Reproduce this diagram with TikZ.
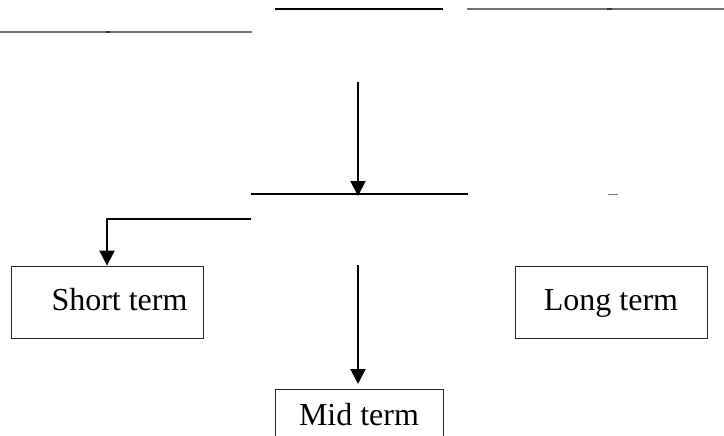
\documentclass[tikz,border=0pt]{standalone}
\usepackage{fontspec}
\setmainfont{Liberation Serif}
\usetikzlibrary{arrows.meta}
\begin{document}
\begin{tikzpicture}[x=1pt,y=-1pt,
  termbox/.style={draw=black!85, line width=0.8pt, minimum width=192pt,
    minimum height=72pt, inner sep=0pt, text height=22pt, text depth=5pt,
    font=\fontsize{32}{36}\selectfont},
  flow/.style={line width=2pt, -{Triangle[length=15pt,width=15pt]}},
  rule/.style={line width=1.5pt},
  faint/.style={line width=1.3pt, draw=black!55},
  nick/.style={line width=1.3pt, draw=black!80}]
  \useasboundingbox (0,0) rectangle (724,436);
  \clip (0,0) rectangle (724,436);

  % upper guide rules
  \coordinate (ta) at (275,9);   \coordinate (tb) at (443,9);
  \coordinate (tc) at (467,9);   \coordinate (td) at (724,9);
  \coordinate (la) at (0,32);    \coordinate (lb) at (252,32);
  \draw[rule] (ta) -- (tb);
  \draw[faint] (tc) -- (td);
  \draw[faint] (la) -- (lb);
  \draw[nick] (607,9) -- (612,9);
  \draw[nick] (106,32) -- (110,32);

  % middle split rule
  \coordinate (ma) at (251,194); \coordinate (mb) at (468,194);
  \draw[rule] (ma) -- (mb);
  \coordinate (sa) at (608,194); \coordinate (sb) at (618,194);
  \draw[faint, line width=1pt] (sa) -- (sb);

  % term boxes
  \node[termbox] (short) at (107,302) {\hspace*{25pt}Short term};
  \node[termbox] (long)  at (611,302) {Long term};
  \node[termbox, minimum width=168pt, minimum height=55pt, anchor=north]
    (mid) at (359,389) {Mid term};

  % connectors
  \coordinate (top) at (358,82);
  \coordinate (hit) at (358,196);
  \draw[flow] (top) -- (hit);

  \coordinate (fork) at (251,219);
  \draw[flow] (fork) -| (short.north);

  \coordinate (midtop) at (358,265);
  \draw[flow, shorten >=5pt] (midtop) -- (midtop |- mid.north);
\end{tikzpicture}
\end{document}
